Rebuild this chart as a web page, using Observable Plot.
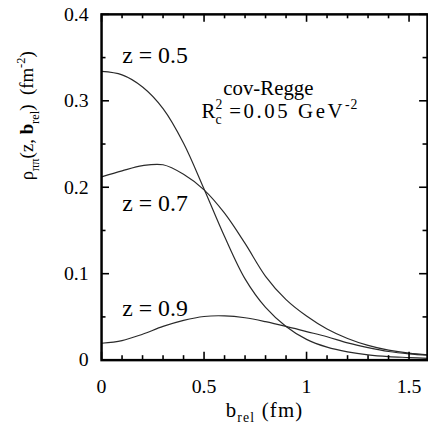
<!DOCTYPE html>
<html>
<head>
<meta charset="utf-8">
<script src="https://cdn.jsdelivr.net/npm/d3@7"></script>
<script src="https://cdn.jsdelivr.net/npm/@observablehq/plot@0.6"></script>
<style>
  html, body { margin: 0; padding: 0; background: #fff; overflow: hidden; }
  #chart { width: 428px; height: 436px; overflow: hidden; }
  #chart svg, #chart svg text { font-family: "Liberation Serif", "Times New Roman", Times, "DejaVu Serif", serif !important; }
</style>
</head>
<body>
<div id="chart"></div>
<script>
// ---- data ----
const bRel = [0, 0.1, 0.2, 0.3, 0.4, 0.5, 0.6, 0.7, 0.8, 0.9, 1.0, 1.1, 1.2, 1.3, 1.4, 1.5, 1.6];
const rhoZ05 = [0.334, 0.330, 0.316, 0.291, 0.251, 0.198, 0.143, 0.094, 0.061, 0.039, 0.024, 0.015, 0.0095, 0.006, 0.004, 0.003, 0.002];
const rhoZ07 = [0.212, 0.219, 0.225, 0.226, 0.215, 0.197, 0.170, 0.135, 0.097, 0.070, 0.051, 0.036, 0.025, 0.017, 0.0115, 0.008, 0.006];
const rhoZ09 = [0.0195, 0.0226, 0.030, 0.039, 0.046, 0.0505, 0.0512, 0.049, 0.0445, 0.039, 0.033, 0.027, 0.020, 0.0145, 0.010, 0.0072, 0.0055];
const seriesNames = ["z = 0.5", "z = 0.7", "z = 0.9"];
const seriesValues = [rhoZ05, rhoZ07, rhoZ09];

const xMajor = [0, 0.5, 1, 1.5];
const xMinor = [0.1, 0.2, 0.3, 0.4, 0.6, 0.7, 0.8, 0.9, 1.1, 1.2, 1.3, 1.4];
const yMajor = [0, 0.1, 0.2, 0.3, 0.4];
const yMinor = [0.05, 0.15, 0.25, 0.35];

// series labels (position in data space) and header annotation
const labelText = seriesNames;
const labelX = [0.101, 0.101, 0.101];
const labelY = [0.352, 0.181, 0.0596];
const noteText = ["cov-Regge", "Rc2 =0.05 GeV-2"];
const noteX = [0.594, 0.488];
const noteY = [0.315, 0.288];
const xLabelPlain = "brel (fm)";
const yLabelPlain = "rhopipi(z, brel) (fm-2)";

// ---- layout ----
const W = 432, H = 436;
const mL = 102, mR = 1, mT = 14, mB = 73;
const xDomain = [0, 1.59];
const yDomain = [0, 0.4];
const kx = (xDomain[1] - xDomain[0]) / (W - mL - mR);
const ky = (yDomain[1] - yDomain[0]) / (H - mT - mB);
const majLen = 8, minLen = 4.5;

const rows = seriesNames.flatMap((s, i) => bRel.map((b, j) => ({series: s, b, rho: seriesValues[i][j]})));
const FONT = '"Liberation Serif", "Times New Roman", Times, "DejaVu Serif", serif';

const plot = Plot.plot({
  width: W, height: H,
  marginLeft: mL, marginRight: mR, marginTop: mT, marginBottom: mB,
  style: `font-family: ${FONT}; font-size: 20px; color: #000; background: #fff;`,
  x: {domain: xDomain, ticks: xMajor, tickSize: 0, tickPadding: 19, tickFormat: d => String(d), label: null},
  y: {domain: yDomain, ticks: yMajor, tickSize: 0, tickPadding: 13, tickFormat: d => String(d), label: null},
  marks: [
    Plot.line(rows, {x: "b", y: "rho", z: "series", stroke: "#2a2a2a", strokeWidth: 1.2, curve: "catmull-rom", clip: true}),
    // inward ticks: bottom & top
    Plot.ruleX(xMajor, {x: d => d, y1: yDomain[0], y2: yDomain[0] + majLen * ky, stroke: "#000", strokeWidth: 1.6}),
    Plot.ruleX(xMinor, {x: d => d, y1: yDomain[0], y2: yDomain[0] + minLen * ky, stroke: "#000", strokeWidth: 1.6}),
    Plot.ruleX(xMajor, {x: d => d, y1: yDomain[1], y2: yDomain[1] - majLen * ky, stroke: "#000", strokeWidth: 1.6}),
    Plot.ruleX(xMinor, {x: d => d, y1: yDomain[1], y2: yDomain[1] - minLen * ky, stroke: "#000", strokeWidth: 1.6}),
    // inward ticks: left & right
    Plot.ruleY(yMajor, {y: d => d, x1: xDomain[0], x2: xDomain[0] + majLen * kx, stroke: "#000", strokeWidth: 1.6}),
    Plot.ruleY(yMinor, {y: d => d, x1: xDomain[0], x2: xDomain[0] + minLen * kx, stroke: "#000", strokeWidth: 1.6}),
    Plot.ruleY(yMajor, {y: d => d, x1: xDomain[1], x2: xDomain[1] - majLen * kx, stroke: "#000", strokeWidth: 1.6}),
    Plot.ruleY(yMinor, {y: d => d, x1: xDomain[1], x2: xDomain[1] - minLen * kx, stroke: "#000", strokeWidth: 1.6}),
    Plot.frame({stroke: "#000", strokeWidth: 2.5}),
    // series labels
    Plot.text(labelText, {x: (d, i) => labelX[i], y: (d, i) => labelY[i], text: d => d, textAnchor: "start", fontSize: 24, fill: "#000"}),
    // annotation
    Plot.text(noteText, {x: (d, i) => noteX[i], y: (d, i) => noteY[i], text: d => d, textAnchor: "start", fontSize: 21, fill: "#000"}),
    // axis titles
    Plot.text([xLabelPlain], {text: d => d, frameAnchor: "bottom", dy: 57, fontSize: 21, fill: "#000"}),
    Plot.text([yLabelPlain], {text: d => d, frameAnchor: "left", dx: -75, dy: -7, rotate: -90, fontSize: 19, fill: "#000"})
  ]
});

// force the serif family on every text node
d3.select(plot).selectAll("text").attr("font-family", FONT);

// rich text (sub/superscripts) as real SVG tspans
function setRich(root, plain, fs, parts, spacing) {
  d3.select(root).selectAll("text").filter(function () { return this.textContent === plain; }).each(function () {
    const t = d3.select(this);
    t.text(null).style("white-space", "pre");
    if (spacing) t.attr("letter-spacing", spacing + "px");
    let shift = 0;
    parts.forEach(p => {
      const sp = t.append("tspan").text(p.s);
      const target = p.k === "sup" ? -0.42 * fs : p.k === "sub" ? 0.28 * fs : p.k === "subu" ? 0.32 * fs : 0;
      sp.attr("dy", (target - shift) + "px");
      shift = target;
      if (p.k) sp.attr("font-size", (0.66 * fs) + "px");
      if (p.dx) sp.attr("dx", p.dx + "px");
      if (p.bold) sp.attr("font-weight", "bold");
      if (p.ls !== undefined) sp.attr("letter-spacing", p.ls + "px");
    });
  });
}
setRich(plot, "Rc2 =0.05 GeV-2", 21, [
  {s: "R", ls: 0}, {s: "2", k: "sup", ls: 0}, {s: "c", k: "subu", dx: -7, ls: 0}, {s: " =0.05 GeV", ls: 2.6}, {s: "-2", k: "sup", ls: 1}
]);
setRich(plot, xLabelPlain, 21, [
  {s: "b"}, {s: "rel", k: "sub"}, {s: " (fm)"}
], 1.2);
setRich(plot, yLabelPlain, 19, [
  {s: "\u03c1"}, {s: "\u03c0\u03c0", k: "sub"}, {s: "(z, "}, {s: "b", bold: true}, {s: "rel", k: "sub"}, {s: ")  (fm"}, {s: "-2", k: "sup"}, {s: ")"}
]);

document.getElementById("chart").appendChild(plot);
</script>
</body>
</html>
